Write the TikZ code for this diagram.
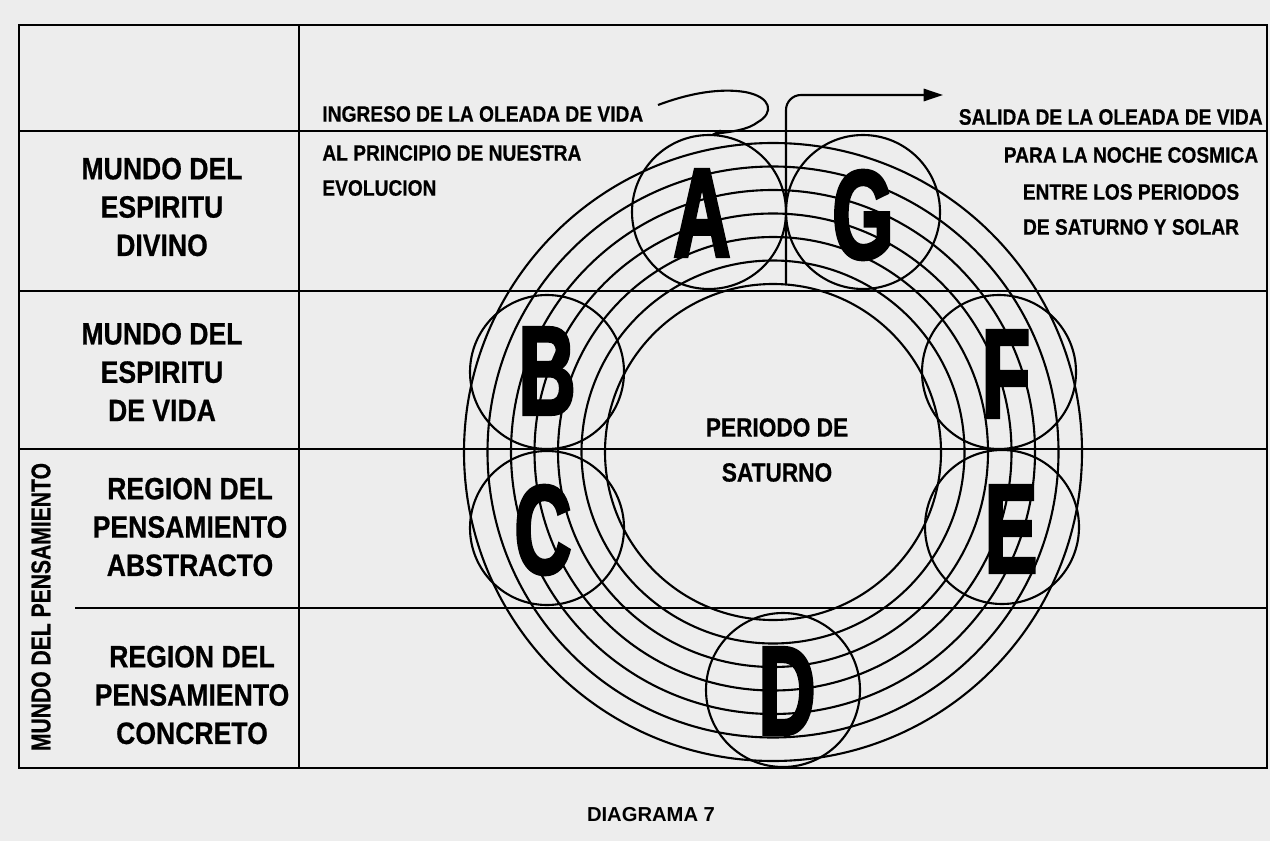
\documentclass[tikz,border=0pt]{standalone}
\usepackage{fontspec}
\setmainfont{Liberation Sans}
\newfontfamily\condfont{Liberation Sans}[FakeStretch=0.86, FakeBold=0.6]
\newfontfamily\narrowfont{Liberation Sans}[FakeStretch=0.78, FakeBold=0.5]
\newfontfamily\letterfont{Liberation Sans}[FakeStretch=0.62, FakeBold=2.5]
\usetikzlibrary{arrows.meta}
\definecolor{paper}{RGB}{237,237,237}

\begin{document}
\begin{tikzpicture}[
                x={(0.02cm,0cm)}, y={(0cm,-0.02cm)},
                rule/.style={line width=1.3pt},
                ring/.style={line width=1.2pt},
                world/.style={font=\condfont\bfseries\fontsize{17.6}{21.8}\selectfont, align=center, inner sep=0pt},
                note/.style={font=\condfont\bfseries\fontsize{12.7}{20}\selectfont, inner sep=0pt},
                period/.style={font=\letterfont\bfseries\fontsize{72}{72}\selectfont, inner sep=0pt} ]

            \fill[paper] (0,0) rectangle (1270,841);
            \useasboundingbox (0,0) rectangle (1270,841);

            % table
            \draw[rule] (19,25) rectangle (1267,768);
            \draw[rule] (299,25) -- (299,768);
            \draw[rule]
            \foreach \y in {131, 291, 449} {
                    (19,\y) -- (1267,\y)
                }
            (75,608) -- (1267,608);

            % ring of the period
            \coordinate (O) at (773,452);
            \draw[ring]
            \foreach \r in {168, 191.5, 215, 238.5, 262, 285.5, 309} {
                    (O) circle (\r)
                };

            \coordinate (A) at (709,212);
            \coordinate (G) at (863,212);
            \coordinate (B) at (547,372);
            \coordinate (C) at (547,528);
            \coordinate (D) at (783,690);
            \coordinate (E) at (1002,527);
            \coordinate (F) at (999,372);
            \draw[ring]
            \foreach \p in {A, B, C, D, E, F, G} {
                    (\p) circle (77)
                };

            \node[period] (letA) at (702,213) {A};
            \node[period] (letG) at (863,215) {G};
            \node[period] (letB) at (547,371) {B};
            \node[period] (letC) at (543,530) {C};
            \node[period] (letD) at (787,691) {D};
            \node[period] (letE) at (1011,529) {E};
            \node[period] (letF) at (1006,374) {F};

            \node[world, font=\condfont\bfseries\fontsize{15}{25.6}\selectfont] (saturno) at (777,450) {PERIODO DE\\SATURNO};

            % worlds
            \node[world] (divino) at (162,207) {MUNDO DEL\\ESPIRITU\\DIVINO};
            \node[world] (vida) at (162,372) {MUNDO DEL\\ESPIRITU\\DE VIDA};
            \node[world] (abstracto) at (190,527) {REGION DEL\\PENSAMIENTO\\ABSTRACTO};
            \node[world] (concreto) at (192,695) {REGION DEL\\PENSAMIENTO\\CONCRETO};
            \node[inner sep=0pt, rotate=90, font=\narrowfont\bfseries\fontsize{15.4}{18}\selectfont] (pensamiento) at (41,607) {MUNDO DEL PENSAMIENTO};

            % life wave
            \node[note, anchor=west] (ingreso) at (322,114) {INGRESO DE LA OLEADA DE VIDA};
            \node[note, anchor=west] (principio) at (322,153) {AL PRINCIPIO DE NUESTRA};
            \node[note, anchor=west] (evolucion) at (322,188) {EVOLUCION};
            \node[note, anchor=east] (salida) at (1263,117) {SALIDA DE LA OLEADA DE VIDA};
            \node[note] (noche) at (1131,155) {PARA LA NOCHE COSMICA};
            \node[note] (entre) at (1131,192) {ENTRE LOS PERIODOS};
            \node[note] (solar) at (1131,227) {DE SATURNO Y SOLAR};

            \coordinate (inStart) at (658,105);
            \coordinate (inEnd) at (712,134);
            \draw[line width=1.2pt, -{Stealth[length=5pt, width=4pt]}]
            (inStart) .. controls (690,93) and (720,88) .. (745,92)
            .. controls (772,97) and (774,113) .. (758,122)
            .. controls (748,130) and (730,132) .. (inEnd);

            \coordinate (outStart) at (786,284);
            \coordinate (outEnd) at (943,95);
            \draw[line width=1.2pt, rounded corners=0.3cm, -{Triangle[length=11pt, width=7pt]}]
            (outStart) |- (outEnd);

            \node[font=\bfseries\fontsize{11.5}{14}\selectfont, inner sep=0pt] (caption) at (651,815) {DIAGRAMA 7};
        \end{tikzpicture}
\end{document}
